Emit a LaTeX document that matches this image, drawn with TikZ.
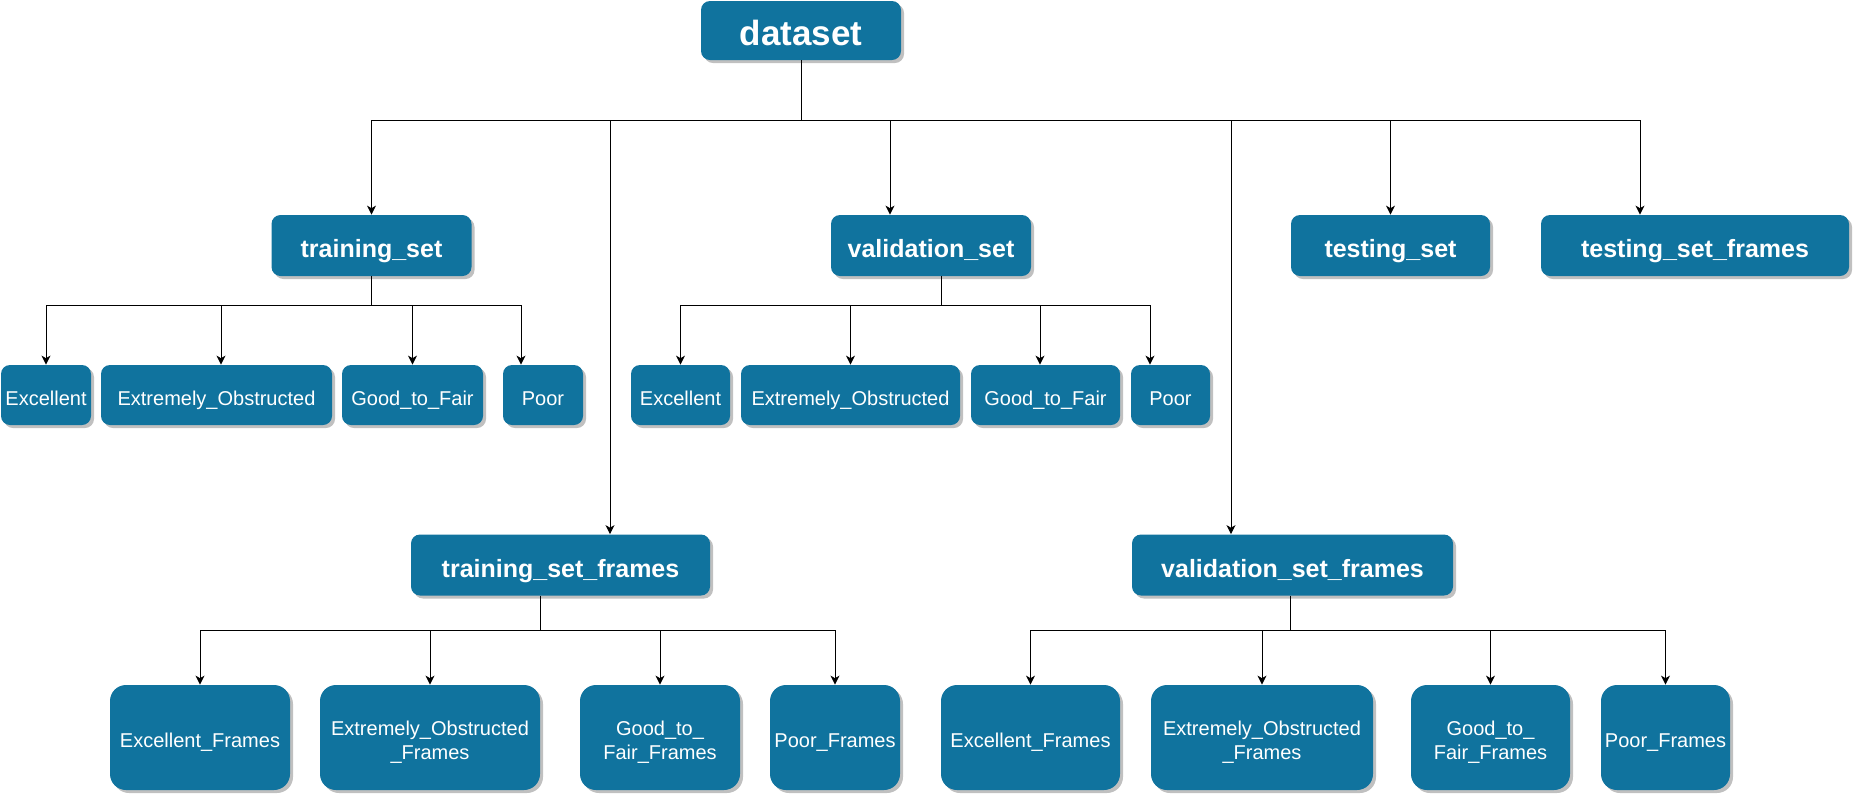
\documentclass[tikz,border=0pt]{standalone}
\usepackage{fontspec}
\setmainfont{Liberation Sans}
\usetikzlibrary{arrows.meta,shadows,calc}
\definecolor{boxblue}{HTML}{10739E}
\begin{document}
\begin{tikzpicture}[x=0.5pt,y=-0.5pt,
  base/.style={draw=none, fill=boxblue, text=white, inner sep=0pt, align=center, text depth=0pt,
    drop shadow={shadow xshift=1.5pt, shadow yshift=-1.5pt, fill=black!45, opacity=0.55}},
  rootbox/.style={base, rounded corners=4.5pt, font=\bfseries\fontsize{17.5}{21}\selectfont, minimum height=29.5pt, text height=15pt},
  setbox/.style={base, rounded corners=4.5pt, font=\bfseries\fontsize{12.5}{15}\selectfont, minimum height=30.5pt, text height=12pt},
  leafbox/.style={base, rounded corners=4.5pt, font=\fontsize{10}{12}\selectfont, minimum height=30pt, text height=10pt},
  framebox/.style={base, rounded corners=8pt, font=\fontsize{10}{12}\selectfont, minimum height=52.5pt, text height=10pt},
  twoline/.style={text height=22pt},
  link/.style={draw=black, line width=0.5pt},
  arr/.style={link, -{Stealth[length=4.5pt,width=4.5pt,inset=1.3pt]}}
]
\useasboundingbox (0,0) rectangle (1853,794);

% root
\node[rootbox, minimum width=100pt] (dataset) at (801,30.5) {dataset};

% level 1
\node[setbox, minimum width=100pt] (trainset) at (371.5,245.5) {training\_set};
\node[setbox, minimum width=100pt] (valset) at (931,245.5) {validation\_set};
\node[setbox, minimum width=99.5pt] (testset) at (1390.5,245.5) {testing\_set};
\node[setbox, minimum width=154pt] (testframes) at (1695,245.5) {testing\_set\_frames};
\node[setbox, minimum width=149.5pt] (trainframes) at (560.5,565) {training\_set\_frames};
\node[setbox, minimum width=160.5pt] (valframes) at (1292.5,565) {validation\_set\_frames};

% training_set children
\node[leafbox, minimum width=45pt] (trEx) at (46,395) {Excellent};
\node[leafbox, minimum width=115.5pt] (trEO) at (216.5,395) {Extremely\_Obstructed};
\node[leafbox, minimum width=70.5pt] (trGF) at (412.5,395) {Good\_to\_Fair};
\node[leafbox, minimum width=40pt] (trPo) at (543,395) {Poor};

% validation_set children
\node[leafbox, minimum width=49.5pt] (vaEx) at (680.5,395) {Excellent};
\node[leafbox, minimum width=109.5pt] (vaEO) at (850.5,395) {Extremely\_Obstructed};
\node[leafbox, minimum width=74.5pt] (vaGF) at (1045.5,395) {Good\_to\_Fair};
\node[leafbox, minimum width=39.5pt] (vaPo) at (1170.5,395) {Poor};

% training_set_frames children
\node[framebox, minimum width=90pt] (tfEx) at (200,737.5) {Excellent\_Frames};
\node[framebox, twoline, minimum width=110pt] (tfEO) at (430,737.5) {Extremely\_Obstructed\\\_Frames};
\node[framebox, twoline, minimum width=80pt] (tfGF) at (660,737.5) {Good\_to\_\\Fair\_Frames};
\node[framebox, minimum width=65pt] (tfPo) at (835,737.5) {Poor\_Frames};

% validation_set_frames children
\node[framebox, minimum width=89.5pt] (vfEx) at (1030.5,737.5) {Excellent\_Frames};
\node[framebox, twoline, minimum width=111pt] (vfEO) at (1262,737.5) {Extremely\_Obstructed\\\_Frames};
\node[framebox, twoline, minimum width=79.5pt] (vfGF) at (1490.5,737.5) {Good\_to\_\\Fair\_Frames};
\node[framebox, minimum width=64.5pt] (vfPo) at (1665.5,737.5) {Poor\_Frames};

% root connectors
\draw[arr] (dataset.south) -- ++(0,60) -| (trainset.north);
\draw[arr] (dataset.south) -- ++(0,60) -| ($(trainframes.north)+(49.5,0)$);
\draw[arr] (dataset.south) -- ++(0,60) -| ($(valset.north)+(-41,0)$);
\draw[arr] (dataset.south) -- ++(0,60) -| ($(valframes.north)+(-61.5,0)$);
\draw[arr] (dataset.south) -- ++(0,60) -| (testset.north);
\draw[arr] (dataset.south) -- ++(0,60) -| ($(testframes.north)+(-55,0)$);

% training_set connectors
\foreach \t/\s in {trEx/0, trEO/4.5, trGF/0, trPo/-22}
  \draw[arr] (trainset.south) -- ++(0,29) -| ($(\t.north)+(\s,0)$);

% validation_set connectors
\foreach \t/\s in {vaEx/0, vaEO/0, vaGF/-5.5, vaPo/-20.5}
  \draw[arr] ($(valset.south)+(10,0)$) -- ++(0,29) -| ($(\t.north)+(\s,0)$);

% training_set_frames connectors
\foreach \t in {tfEx, tfEO, tfGF, tfPo}
  \draw[arr] ($(trainframes.south)+(-20.5,0)$) -- ++(0,35) -| (\t.north);

% validation_set_frames connectors
\foreach \t in {vfEx, vfEO, vfGF, vfPo}
  \draw[arr] ($(valframes.south)+(-2.5,0)$) -- ++(0,35) -| (\t.north);
\end{tikzpicture}
\end{document}
